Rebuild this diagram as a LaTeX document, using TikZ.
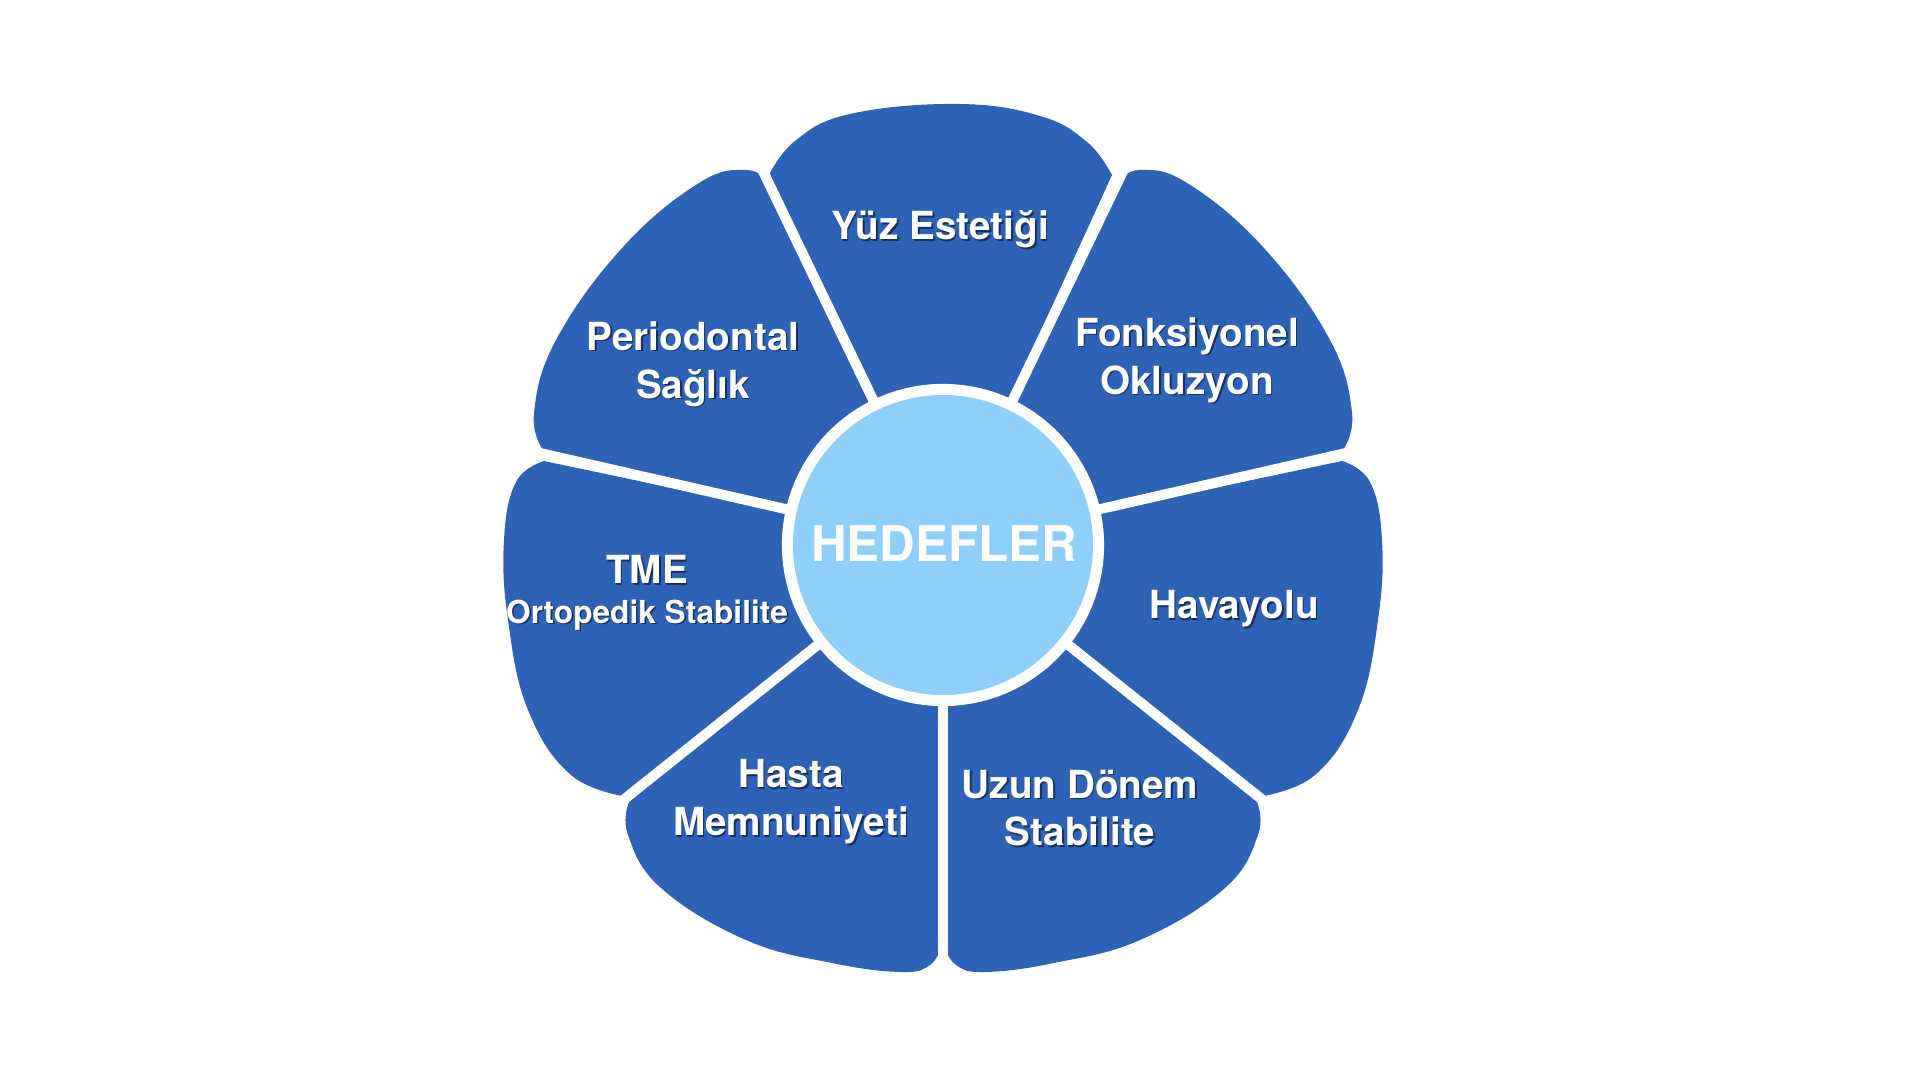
\documentclass[tikz,border=0pt]{standalone}
\usepackage{fontspec}
\setmainfont{TeX Gyre Heros}
\usetikzlibrary{calc}
\definecolor{petal-blue}{RGB}{45,98,182}
\definecolor{hub-blue}{RGB}{142,207,250}
\tikzset{
    my-petal/.style={
        fill=petal-blue
    },
    my-gap/.style={
        draw=white, line width=1mm
    },
    my-hub/.style={
        circle, fill=hub-blue, draw=white, line width=1.1mm, minimum size=3.11cm,
        text=white, font=\fontsize{14}{16}\selectfont\bfseries
    },
    my-label/.style={
        text=white, align=center, inner sep=0pt, font=\fontsize{11}{13.6}\selectfont\bfseries
    },
    my-shade/.style={
        my-label, text=black, opacity=.5
    },
}
\newcommand{\petallabel}[4]{%
    \node[my-shade, #2] (#1-SH) at ($(#3)+(1.5,1.5)$) {#4};
    \node[my-label, #2] (#1)    at (#3)               {#4};
}

\begin{document}
\begin{tikzpicture}[x=0.01cm, y=-0.01cm]

        % BACKGROUND
        \fill[white] (0,0) rectangle (1920,1080);
        \coordinate[] (C) at (943,545);

        % TOP PETAL
        \fill[my-petal] (C) -- plot[smooth, tension=.7] coordinates {(768,177) (795,141) (850,114) (958,104) (1040,116) (1087,142) (1112,175)} -- cycle;

        % SIDE PETALS, RIGHT AND MIRRORED LEFT
        \foreach \s in {1,-1} {
            \begin{scope}[shift={(943,0)}, xscale=\s, shift={(-943,0)}]
                \fill[my-petal] (C) -- plot[smooth, tension=.7] coordinates {(1117,182) (1140,170) (1187,183) (1263,247) (1330,340) (1352,413) (1343,450)} -- cycle;
                \fill[my-petal] (C) -- plot[smooth, tension=.7] coordinates {(1342,461) (1370,482) (1382,540) (1378,620) (1358,710) (1315,775) (1258,797)} -- cycle;
                \fill[my-petal] (C) -- plot[smooth, tension=.7] coordinates {(1257,802) (1258,835) (1225,888) (1140,940) (1054,963) (985,972) (956,965) (944,945)} -- cycle;
            \end{scope}
        }

        % GAPS BETWEEN PETALS
        \foreach \k in {0,...,6} {
            \draw[my-gap] (C) -- ++({-64.2857-51.4286*\k}:480);
        }

        % HUB
        \node[my-hub] (HUB) at (C) {};
        \node[text=white, font=\fontsize{14}{16}\selectfont\bfseries, anchor=base] (HEDEFLER) at (944,562) {HEDEFLER};

        % PETAL LABELS
        \petallabel{YUZ}{anchor=base}{940,240}{Yüz Estetiği}
        \petallabel{PER}{}{693,364}{Periodontal\\Sağlık}
        \petallabel{FONK}{}{1187,360}{Fonksiyonel\\Okluzyon}
        \petallabel{TME}{}{647,593}{TME\\[-2.4pt]{\fontsize{9}{11}\selectfont Ortopedik Stabilite}}
        \petallabel{HAVA}{anchor=base}{1234,619}{Havayolu}
        \petallabel{HASTA}{}{791,802}{Hasta\\Memnuniyeti}
        \petallabel{UZUN}{}{1080,808}{Uzun Dönem\\Stabilite}

    \end{tikzpicture}
\end{document}
